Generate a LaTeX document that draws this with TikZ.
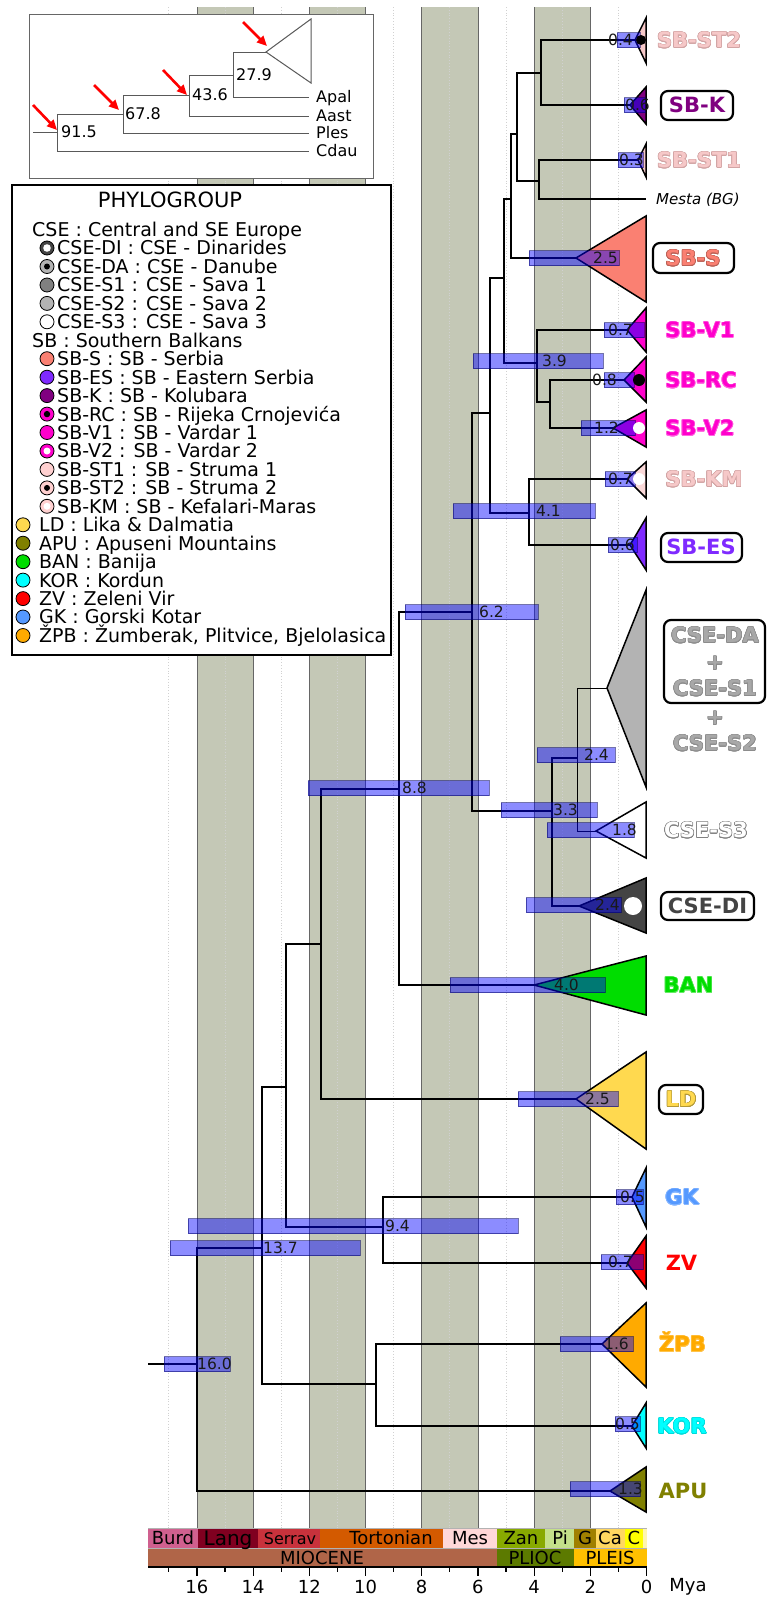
\documentclass[tikz,border=0pt]{standalone}
\usepackage{fontspec}
\setmainfont{DejaVu Sans}
\usepackage[copies]{contour}
\contourlength{0.6pt}
\usetikzlibrary{arrows.meta}
\definecolor{bandc}{HTML}{C4C8B6}
\definecolor{pinkst}{HTML}{F6C8C8}
\definecolor{pinkkm}{HTML}{FAD8D8}
\definecolor{pinklg}{HTML}{FFD0D0}
\definecolor{pinkol}{HTML}{D2A4A4}
\definecolor{kpurp}{HTML}{800080}
\definecolor{salmonc}{HTML}{FA8072}
\definecolor{magen}{HTML}{FF00CC}
\definecolor{espurp}{HTML}{7F2AFF}
\definecolor{cgray}{HTML}{B3B3B3}
\definecolor{cgtext}{HTML}{A8A8A8}
\definecolor{dgray}{HTML}{444444}
\definecolor{mgray}{HTML}{808080}
\definecolor{bangreen}{HTML}{00DD00}
\definecolor{ldyel}{HTML}{FFD94F}
\definecolor{gkblue}{HTML}{5599FF}
\definecolor{zvred}{HTML}{FF0000}
\definecolor{zpborange}{HTML}{FFAA00}
\definecolor{korcyan}{HTML}{00FFFF}
\definecolor{apuolive}{HTML}{808000}
\definecolor{cburd}{HTML}{D0608F}
\definecolor{clang}{HTML}{800020}
\definecolor{cserrav}{HTML}{C8323C}
\definecolor{ctorton}{HTML}{D35A00}
\definecolor{cmess}{HTML}{FFD8D8}
\definecolor{czanc}{HTML}{88AA00}
\definecolor{cpiac}{HTML}{C4E08A}
\definecolor{cgelas}{HTML}{A08000}
\definecolor{ccalab}{HTML}{FFD860}
\definecolor{cchib}{HTML}{FFFF00}
\definecolor{cholo}{HTML}{FFF5B0}
\definecolor{cmioc}{HTML}{B06548}
\definecolor{cplioc}{HTML}{5C7A00}
\definecolor{cpleis}{HTML}{FFC000}
\newcommand{\hpdbar}[3]{\path[hpd] (#1,{#3-7.5}) rectangle (#2,{#3+7.5});}
\newcommand{\tiptri}[4]{\filldraw[tipshape, fill=#4] (#1) -- (646,#2) -- (646,#3) -- cycle;}
\begin{document}
\begin{tikzpicture}[x=1pt,y=-1pt,
  treeline/.style={line width=1.8pt, black},
  thinline/.style={line width=1pt, black},
  tipshape/.style={draw=black, line width=1.5pt, line join=miter},
  hpd/.style={fill=blue, fill opacity=0.45, draw=blue!40!black, draw opacity=0.55, line width=0.8pt},
  num/.style={font=\fontsize{15.5}{16}\selectfont, anchor=base west, inner sep=0pt, yshift=-5.65pt, text=black!90},
  tiplab/.style={font=\fontsize{21}{24}\selectfont\bfseries, anchor=base, inner sep=0pt, yshift=-7.65pt},
  boxlab/.style={draw=black, line width=2.2pt, rounded corners=7pt, fill=white},
  leg/.style={font=\fontsize{19}{22}\selectfont, anchor=base west, inner sep=0pt, yshift=-6.9pt},
  mk/.style={circle, draw=black, line width=0.8pt, minimum size=14pt, inner sep=0pt},
  ins/.style={font=\fontsize{16}{18}\selectfont, anchor=base west, inner sep=0pt, yshift=-5.8pt},
  insline/.style={draw=black!65, line width=1pt},
  redarrow/.style={red, line width=2.6pt, -{Triangle[length=10pt,width=9pt]}},
  ts/.style={font=\fontsize{18}{20}\selectfont, anchor=base, inner sep=0pt, yshift=-6.6pt}
]
\useasboundingbox (0,0) rectangle (774,1598);
\fill[white] (0,0) rectangle (774,1598);

% ---------- bands and grid ----------
\foreach \a/\b in {16/14,12/10,8/6,4/2}{
  \fill[bandc] ({646.5-28.1*\a},7) rectangle ({646.5-28.1*\b},1528);
  \draw[black!60, line width=0.8pt] ({646.5-28.1*\a},7) -- ({646.5-28.1*\a},1528);
  \draw[black!60, line width=0.8pt] ({646.5-28.1*\b},7) -- ({646.5-28.1*\b},1528);
}
\foreach \t in {1,3,...,17}
  \draw[black!18, dotted, line width=0.8pt] ({646.5-28.1*\t},7) -- ({646.5-28.1*\t},1528);

% ---------- inset tree ----------
\draw[draw=black!60, line width=1pt, fill=white] (29,14) rectangle (373,178);
\coordinate (iStub) at (33,132);
\coordinate (i915) at (57,132);
\coordinate (i678) at (123,114);
\coordinate (i436) at (189,95);
\coordinate (i279) at (233,75);
\coordinate (iClade) at (266,52);
\coordinate (iApal) at (309,97);
\coordinate (iAast) at (309,116);
\coordinate (iPles) at (309,133);
\coordinate (iCdau) at (309,151);
\draw[insline] (iStub) -- (i915);
\draw[insline] (i915) |- (i678);
\draw[insline] (i915) |- (iCdau);
\draw[insline] (i678) |- (i436);
\draw[insline] (i678) |- (iPles);
\draw[insline] (i436) |- (i279);
\draw[insline] (i436) |- (iAast);
\draw[insline] (i279) |- (iClade);
\draw[insline] (i279) |- (iApal);
\draw[insline] (iClade) -- (311,19) -- (311,83) -- cycle;
\node[ins] (i915l) at (61,132) {91.5};
\node[ins] (i678l) at (125,114) {67.8};
\node[ins] (i436l) at (192,95) {43.6};
\node[ins] (i279l) at (236,75) {27.9};
\node[ins] (iApalL) at (316,97) {Apal};
\node[ins] (iAastL) at (316,116) {Aast};
\node[ins] (iPlesL) at (316,133) {Ples};
\node[ins] (iCdauL) at (316,151) {Cdau};
\coordinate (a1s) at (33,105); \coordinate (a1e) at (57,130);
\coordinate (a2s) at (94,85); \coordinate (a2e) at (119,110);
\coordinate (a3s) at (163,70); \coordinate (a3e) at (187,95);
\coordinate (a4s) at (243,22); \coordinate (a4e) at (267,46);
\draw[redarrow] (a1s) -- (a1e);
\draw[redarrow] (a2s) -- (a2e);
\draw[redarrow] (a3s) -- (a3e);
\draw[redarrow] (a4s) -- (a4e);

% ---------- legend ----------
\draw[line width=1.8pt, fill=white] (12,185) rectangle (391,655);
\node[leg, anchor=base, font=\fontsize{21}{24}\selectfont, yshift=-0.7pt] (lgTitle) at (170,200) {PHYLOGROUP};
\node[leg] (lgCSE) at (32,229.6) {CSE : Central and SE Europe};
\node[mk, fill=dgray] (mDI) at (47,248) {}; \fill[white] (mDI.center) circle (3.8pt);
\node[leg] (lgDI) at (57,248) {CSE-DI : CSE - Dinarides};
\node[mk, fill=cgray] (mDA) at (47,266.5) {}; \fill[black] (mDA.center) circle (3pt);
\node[leg] (lgDA) at (57,266.5) {CSE-DA : CSE - Danube};
\node[mk, fill=mgray] (mS1) at (47,285) {};
\node[leg] (lgS1) at (57,285) {CSE-S1 : CSE - Sava 1};
\node[mk, fill=cgray] (mS2) at (47,303.4) {};
\node[leg] (lgS2) at (57,303.4) {CSE-S2 : CSE - Sava 2};
\node[mk, fill=white] (mS3) at (47,321.8) {};
\node[leg] (lgS3) at (57,321.8) {CSE-S3 : CSE - Sava 3};
\node[leg] (lgSB) at (32,340.3) {SB : Southern Balkans};
\node[mk, fill=salmonc] (mS) at (47,358.7) {};
\node[leg] (lgS) at (57,358.7) {SB-S : SB - Serbia};
\node[mk, fill=espurp] (mES) at (47,377.2) {};
\node[leg] (lgES) at (57,377.2) {SB-ES : SB - Eastern Serbia};
\node[mk, fill=kpurp] (mK) at (47,395.6) {};
\node[leg] (lgK) at (57,395.6) {SB-K : SB - Kolubara};
\node[mk, fill=magen] (mRC) at (47,414.1) {}; \fill[black] (mRC.center) circle (3.2pt);
\node[leg] (lgRC) at (57,414.1) {SB-RC : SB - Rijeka Crnojevića};
\node[mk, fill=magen] (mV1) at (47,432.5) {};
\node[leg] (lgV1) at (57,432.5) {SB-V1 : SB - Vardar 1};
\node[mk, fill=magen] (mV2) at (47,451) {}; \fill[white] (mV2.center) circle (3.5pt);
\node[leg] (lgV2) at (57,451) {SB-V2 : SB - Vardar 2};
\node[mk, fill=pinklg] (mST1) at (47,469.4) {};
\node[leg] (lgST1) at (57,469.4) {SB-ST1 : SB - Struma 1};
\node[mk, fill=pinklg] (mST2) at (47,487.9) {}; \fill[black] (mST2.center) circle (3pt);
\node[leg] (lgST2) at (57,487.9) {SB-ST2 : SB - Struma 2};
\node[mk, fill=pinklg] (mKM) at (47,506.3) {}; \fill[white] (mKM.center) circle (3.5pt);
\node[leg] (lgKM) at (57,506.3) {SB-KM : SB - Kefalari-Maras};
\node[mk, fill=ldyel] (mLD) at (23,524.8) {};
\node[leg] (lgLD) at (39,524.8) {LD : Lika \& Dalmatia};
\node[mk, fill=apuolive] (mAPU) at (23,543.2) {};
\node[leg] (lgAPU) at (39,543.2) {APU : Apuseni Mountains};
\node[mk, fill=bangreen] (mBAN) at (23,561.7) {};
\node[leg] (lgBAN) at (39,561.7) {BAN : Banija};
\node[mk, fill=korcyan] (mKOR) at (23,580.1) {};
\node[leg] (lgKOR) at (39,580.1) {KOR : Kordun};
\node[mk, fill=zvred] (mZV) at (23,598.6) {};
\node[leg] (lgZV) at (39,598.6) {ZV : Zeleni Vir};
\node[mk, fill=gkblue] (mGK) at (23,617) {};
\node[leg] (lgGK) at (39,617) {GK : Gorski Kotar};
\node[mk, fill=zpborange] (mZPB) at (23,635.5) {};
\node[leg] (lgZPB) at (39,635.5) {ŽPB : Žumberak, Plitvice, Bjelolasica};

% ---------- tree coordinates ----------
\coordinate (rootstub) at (148,1364);
\coordinate (n160) at (197,1364);
\coordinate (n137) at (262,1248);
\coordinate (n128) at (286,1087);
\coordinate (n116) at (321,944);
\coordinate (n88) at (399,789);
\coordinate (n62) at (472,612);
\coordinate (nD) at (490,413);
\coordinate (nC) at (504,278);
\coordinate (nA) at (511,199);
\coordinate (nB) at (517,134);
\coordinate (nE) at (541,73);
\coordinate (nF) at (539,181);
\coordinate (n39) at (537,363);
\coordinate (n34) at (550,402);
\coordinate (n41) at (529,513);
\coordinate (n33) at (552,811);
\coordinate (n24) at (577,758);
\coordinate (n94) at (383,1227);
\coordinate (n96) at (376,1384);

\coordinate (tST2) at (635,40);
\coordinate (tK) at (630,105);
\coordinate (tST1) at (638,160);
\coordinate (tMesta) at (646,199);
\coordinate (tS) at (576,258);
\coordinate (tV1) at (627,330);
\coordinate (tRC) at (624,380);
\coordinate (tV2) at (613,428);
\coordinate (tKM) at (627,479);
\coordinate (tES) at (630,545);
\coordinate (tDA) at (607,688);
\coordinate (tS3) at (596,831);
\coordinate (tDI) at (579,906);
\coordinate (tBAN) at (534,985);
\coordinate (tLD) at (576,1099);
\coordinate (tGK) at (632,1197);
\coordinate (tZV) at (627,1263);
\coordinate (tZPB) at (602,1344);
\coordinate (tKOR) at (632,1426);
\coordinate (tAPU) at (610,1491);

% ---------- branches ----------
\draw[treeline] (rootstub) -- (n160);
\draw[treeline] (n160) |- (n137);
\draw[treeline] (n160) |- (tAPU);
\draw[treeline] (n137) |- (n128);
\draw[treeline] (n137) |- (n96);
\draw[treeline] (n128) |- (n116);
\draw[treeline] (n128) |- (n94);
\draw[treeline] (n94) |- (tGK);
\draw[treeline] (n94) |- (tZV);
\draw[treeline] (n96) |- (tZPB);
\draw[treeline] (n96) |- (tKOR);
\draw[treeline] (n116) |- (n88);
\draw[treeline] (n116) |- (tLD);
\draw[treeline] (n88) |- (n62);
\draw[treeline] (n88) |- (tBAN);
\draw[treeline] (n62) |- (nD);
\draw[treeline] (n62) |- (n33);
\draw[treeline] (n33) |- (n24);
\draw[treeline] (n33) |- (tDI);
\draw[thinline] (n24) |- (tDA);
\draw[thinline] (n24) |- (tS3);
\draw[treeline] (nD) |- (nC);
\draw[treeline] (nD) |- (n41);
\draw[treeline] (n41) |- (tKM);
\draw[treeline] (n41) |- (tES);
\draw[treeline] (nC) |- (nA);
\draw[treeline] (nC) |- (n39);
\draw[treeline] (n39) |- (tV1);
\draw[treeline] (n39) |- (n34);
\draw[treeline] (n34) |- (tRC);
\draw[treeline] (n34) |- (tV2);
\draw[treeline] (nA) |- (nB);
\draw[treeline] (nA) |- (tS);
\draw[treeline] (nB) |- (nE);
\draw[treeline] (nB) |- (nF);
\draw[treeline] (nE) |- (tST2);
\draw[treeline] (nE) |- (tK);
\draw[treeline] (nF) |- (tST1);
\draw[treeline] (nF) |- (tMesta);

% ---------- collapsed clades ----------
\tiptri{tST2}{18}{63}{pinkst}
\tiptri{tK}{87}{124}{kpurp}
\tiptri{tST1}{144}{177}{pinkst}
\tiptri{tS}{216}{302}{salmonc}
\tiptri{tV1}{308}{352}{magen}
\tiptri{tRC}{357}{402}{magen}
\tiptri{tV2}{410}{447}{magen}
\tiptri{tKM}{462}{498}{pinkkm}
\tiptri{tES}{518}{570}{espurp}
\tiptri{tDA}{590}{787}{cgray}
\tiptri{tS3}{802}{858}{white}
\tiptri{tDI}{878}{933}{dgray}
\tiptri{tBAN}{956}{1015}{bangreen}
\tiptri{tLD}{1052}{1149}{ldyel}
\tiptri{tGK}{1168}{1227}{gkblue}
\tiptri{tZV}{1236}{1288}{zvred}
\tiptri{tZPB}{1303}{1387}{zpborange}
\tiptri{tKOR}{1403}{1448}{korcyan}
\tiptri{tAPU}{1467}{1512}{apuolive}

% ---------- HPD bars ----------
\hpdbar{617}{640}{40}
\hpdbar{624}{645}{105}
\hpdbar{618}{643}{160}
\hpdbar{529}{619}{258}
\hpdbar{604}{644}{330}
\hpdbar{604}{634}{380}
\hpdbar{581}{635}{428}
\hpdbar{605}{635}{479}
\hpdbar{608}{637}{545}
\hpdbar{473}{603}{361}
\hpdbar{453}{595}{511}
\hpdbar{405}{538}{612}
\hpdbar{308}{489}{788}
\hpdbar{537}{615}{755}
\hpdbar{501}{597}{810}
\hpdbar{547}{634}{830}
\hpdbar{526}{621}{905}
\hpdbar{450}{605}{985}
\hpdbar{518}{618}{1099}
\hpdbar{616}{643}{1197}
\hpdbar{601}{643}{1262}
\hpdbar{188}{518}{1226}
\hpdbar{170}{360}{1248}
\hpdbar{560}{633}{1344}
\hpdbar{164}{230}{1364}
\hpdbar{615}{640}{1424}
\hpdbar{570}{640}{1489}

% ---------- dots on clades ----------
\fill[black] (641,40) circle (5pt);
\fill[black] (639,380) circle (6pt);
\fill[white] (639,428) circle (6pt);
\fill[white] (639,479) circle (6pt);
\fill[white] (633,906) circle (9pt);

% ---------- node ages ----------
\node[num] (aST2) at (608,40) {0.4};
\node[num] (aK) at (625,105) {0.6};
\node[num] (aST1) at (619,160) {0.3};
\node[num] (aS) at (593,258) {2.5};
\node[num] (aV1) at (608,330) {0.7};
\node[num] (aRC) at (592,380) {0.8};
\node[num] (aV2) at (594,428) {1.2};
\node[num] (aKM) at (608,479) {0.7};
\node[num] (aES) at (610,545) {0.6};
\node[num] (a39) at (542,361) {3.9};
\node[num] (a41) at (536,511) {4.1};
\node[num] (a62) at (479,612) {6.2};
\node[num] (a88) at (402,788) {8.8};
\node[num] (a24) at (584,755) {2.4};
\node[num] (a33) at (553,810) {3.3};
\node[num] (aS3) at (612,830) {1.8};
\node[num] (aDI) at (595,905) {2.4};
\node[num] (aBAN) at (554,985) {4.0};
\node[num] (aLD) at (585,1099) {2.5};
\node[num] (aGK) at (620,1197) {0.5};
\node[num] (aZV) at (608,1262) {0.7};
\node[num] (a94) at (385,1226) {9.4};
\node[num] (a137) at (263,1248) {13.7};
\node[num] (aZPB) at (604,1344) {1.6};
\node[num] (a160) at (197,1364) {16.0};
\node[num] (aKOR) at (615,1424) {0.5};
\node[num] (aAPU) at (618,1489) {1.3};

% ---------- clade labels ----------
\draw[boxlab] (661,91) rectangle (733,120);
\draw[boxlab] (653,243) rectangle (734,273);
\draw[boxlab] (661,533) rectangle (742,562);
\draw[boxlab] (664,620) rectangle (765,703);
\draw[boxlab] (661,892) rectangle (754,920);
\draw[boxlab] (659,1085) rectangle (703,1114);
\node[tiplab, text=pinkst] (lST2) at (699,40) {\contour{pinkol}{SB-ST2}};
\node[tiplab, text=kpurp] (lK) at (697,105) {SB-K};
\node[tiplab, text=pinkst] (lST1) at (699,160) {\contour{pinkol}{SB-ST1}};
\node[font=\fontsize{15}{17}\selectfont\itshape, anchor=base west, inner sep=0pt, yshift=-5.5pt] (lMesta) at (656,199) {Mesta (BG)};
\node[tiplab, text=salmonc] (lS) at (693,258) {\contour{salmonc!75!black}{SB-S}};
\node[tiplab, text=magen] (lV1) at (700,330) {\contour{magen!60!white}{SB-V1}};
\node[tiplab, text=magen] (lRC) at (701,380) {\contour{magen!60!white}{SB-RC}};
\node[tiplab, text=magen] (lV2) at (700,428) {\contour{magen!60!white}{SB-V2}};
\node[tiplab, text=pinkst] (lKM) at (704,479) {\contour{pinkol}{SB-KM}};
\node[tiplab, text=espurp] (lES) at (701,547) {SB-ES};
\node[tiplab, text=cgtext] (lDA) at (715,635) {\contour{black!45}{CSE-DA}};
\node[tiplab, text=cgtext] (lP1) at (715,662) {\contour{black!45}{+}};
\node[tiplab, text=cgtext] (lS1) at (715,688) {\contour{black!45}{CSE-S1}};
\node[tiplab, text=cgtext] (lP2) at (715,717) {\contour{black!45}{+}};
\node[tiplab, text=cgtext] (lS2) at (715,743) {\contour{black!45}{CSE-S2}};
\node[tiplab, text=white] (lS3) at (706,830) {\contour{black!50}{CSE-S3}};
\node[tiplab, text=dgray] (lDI) at (707.5,906) {CSE-DI};
\node[tiplab, text=bangreen] (lBAN) at (688.5,985) {\contour{bangreen!60!white}{BAN}};
\node[tiplab, text=ldyel] (lLD) at (681,1099) {\contour{ldyel!70!black}{LD}};
\node[tiplab, text=gkblue] (lGK) at (682,1197) {\contour{gkblue!70!white}{GK}};
\node[tiplab, text=zvred] (lZV) at (681.5,1263) {ZV};
\node[tiplab, text=zpborange] (lZPB) at (682.5,1344) {\contour{zpborange!70!white}{ŽPB}};
\node[tiplab, text=korcyan] (lKOR) at (682,1426) {\contour{korcyan!85!black}{KOR}};
\node[tiplab, text=apuolive] (lAPU) at (683,1491) {APU};

% ---------- time scale ----------
\fill[cburd] (148,1528) rectangle (197.7,1548);
\fill[clang] (197.7,1528) rectangle (258.2,1548);
\fill[cserrav] (258.2,1528) rectangle (319.7,1548);
\fill[ctorton] (319.7,1528) rectangle (442.9,1548);
\fill[cmess] (442.9,1528) rectangle (496.6,1548);
\fill[czanc] (496.6,1528) rectangle (545.3,1548);
\fill[cpiac] (545.3,1528) rectangle (574.0,1548);
\fill[cgelas] (574.0,1528) rectangle (595.9,1548);
\fill[ccalab] (595.9,1528) rectangle (624.6,1548);
\fill[cchib] (624.6,1528) rectangle (643.0,1548);
\fill[cholo] (643.0,1528) rectangle (646.5,1548);
\fill[cmioc] (148,1548) rectangle (496.6,1567);
\fill[cplioc] (496.6,1548) rectangle (574.0,1567);
\fill[cpleis] (574.0,1548) rectangle (646.5,1567);
\draw[black!30, line width=0.6pt] (148,1528) -- (646.5,1528);
\draw[black!30, line width=0.6pt] (148,1548) -- (646.5,1548);
\node[ts] (sBurd) at (173,1538) {Burd};
\node[ts, font=\fontsize{20}{22}\selectfont, yshift=-0.7pt] (sLang) at (228,1538) {Lang};
\node[ts, font=\fontsize{16}{18}\selectfont, yshift=0.6pt] (sSerrav) at (290,1538) {Serrav};
\node[ts] (sTort) at (391,1538) {Tortonian};
\node[ts] (sMes) at (470,1538) {Mes};
\node[ts] (sZan) at (521,1538) {Zan};
\node[ts] (sPi) at (560,1538) {Pi};
\node[ts] (sG) at (585,1538) {G};
\node[ts] (sCa) at (610,1538) {Ca};
\node[ts] (sC) at (634,1538) {C};
\node[ts] (eMio) at (322,1558) {MIOCENE};
\node[ts] (ePlio) at (535,1558) {PLIOC};
\node[ts] (ePleis) at (610,1558) {PLEIS};
\draw[black, line width=1.5pt] (148,1567) -- (646.5,1567);
\foreach \t in {0,2,...,16}{
  \draw[black, line width=1.2pt] ({646.5-28.1*\t},1567) -- ({646.5-28.1*\t},1576);
  \node[ts] (tick\t) at ({646.5-28.1*\t},1587) {\t};
}
\foreach \t in {1,3,...,17}
  \draw[black, line width=1.2pt] ({646.5-28.1*\t},1567) -- ({646.5-28.1*\t},1572);
\node[ts] (mya) at (688,1585) {Mya};
\end{tikzpicture}
\end{document}
